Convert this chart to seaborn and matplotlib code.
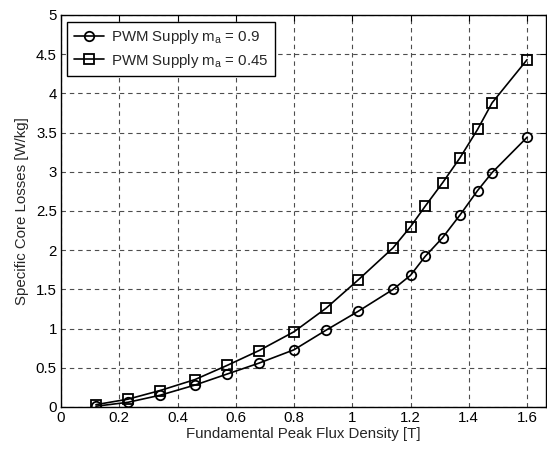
import matplotlib
matplotlib.use("Agg")
import matplotlib.pyplot as plt
import seaborn as sns
import pandas as pd
from matplotlib.lines import Line2D

flux = [0.12, 0.23, 0.34, 0.46, 0.57, 0.68, 0.80, 0.91, 1.02, 1.14, 1.20, 1.25, 1.31, 1.37, 1.43, 1.48, 1.60]
loss_09 = [0.01, 0.06, 0.15, 0.28, 0.42, 0.56, 0.73, 0.98, 1.22, 1.50, 1.68, 1.92, 2.16, 2.45, 2.76, 2.99, 3.44]
loss_045 = [0.03, 0.10, 0.21, 0.35, 0.53, 0.72, 0.96, 1.26, 1.62, 2.03, 2.30, 2.56, 2.86, 3.18, 3.54, 3.88, 4.43]
labels = ["PWM Supply m$_a$ = 0.9", "PWM Supply m$_a$ = 0.45"]
xticks = [0, 0.2, 0.4, 0.6, 0.8, 1, 1.2, 1.4, 1.6]
yticks = [0, 0.5, 1, 1.5, 2, 2.5, 3, 3.5, 4, 4.5, 5]

sns.set_style("white")
plt.rcParams['font.family'] = ['Liberation Sans', 'DejaVu Sans']
plt.rcParams['mathtext.default'] = 'regular'

FS = 10.8

df = pd.DataFrame({
    "flux": flux * 2,
    "loss": loss_09 + loss_045,
    "series": [labels[0]] * len(flux) + [labels[1]] * len(flux),
})

fig = plt.figure(figsize=(5.47, 4.49), dpi=100)
ax = fig.add_axes([61 / 547, 42 / 449, 485 / 547, 392 / 449])

sns.lineplot(data=df, x="flux", y="loss", hue="series", style="series",
             markers={labels[0]: "o", labels[1]: "s"}, dashes=False,
             palette={labels[0]: "black", labels[1]: "black"},
             markersize=6.8, markerfacecolor="none", markeredgecolor="black",
             markeredgewidth=1.3, linewidth=1.2, ax=ax, legend=False)

ax.set_xlim(0, 1.665)
ax.set_ylim(0, 5)
ax.set_xticks(xticks)
ax.set_xticklabels([f"{v:g}" for v in xticks])
ax.set_yticks(yticks)
ax.set_yticklabels([f"{v:g}" for v in yticks])
ax.grid(True, color="0.3", linestyle=(0, (4, 3.5)), linewidth=0.8)
ax.tick_params(direction="in", length=4, width=0.8, top=True, right=True,
               labelsize=FS, colors="black", pad=3)
for s in ax.spines.values():
    s.set_color("black")
    s.set_linewidth(1.0)
ax.set_xlabel("Fundamental Peak Flux Density [T]", fontsize=FS, labelpad=1)
ax.set_ylabel("Specific Core Losses [W/kg]", fontsize=FS, labelpad=5)

handles = [Line2D([], [], color="black", marker="o", markerfacecolor="none", markersize=6.8, markeredgewidth=1.3, linewidth=1.2),
           Line2D([], [], color="black", marker="s", markerfacecolor="none", markersize=6.8, markeredgewidth=1.3, linewidth=1.2)]
leg = ax.legend(handles, labels, loc="upper left", bbox_to_anchor=(0.012, 0.983),
                fontsize=FS, frameon=True, fancybox=False, numpoints=1,
                handlelength=2.0, borderpad=0.45, labelspacing=0.35, handletextpad=0.5,
                borderaxespad=0.0)
leg.get_frame().set_edgecolor("black")
leg.get_frame().set_linewidth(1.0)
leg.get_frame().set_alpha(1)

fig.savefig("out.png", dpi=100)
